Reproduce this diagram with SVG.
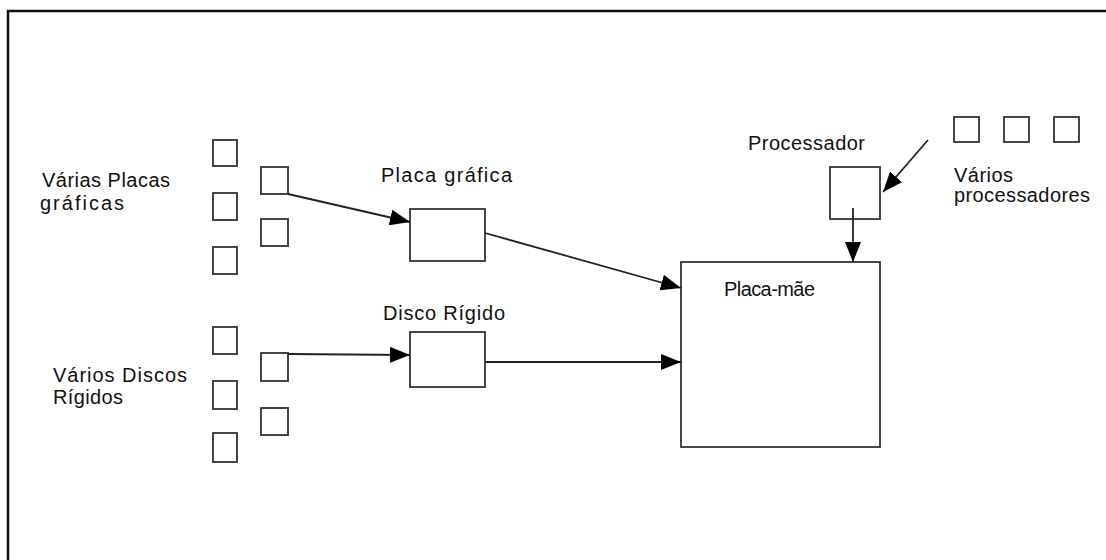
<svg xmlns="http://www.w3.org/2000/svg" width="1106" height="560" viewBox="0 0 1106 560">
<style>
.frame{stroke:#111;stroke-width:2.5;fill:none}
.sq{fill:#fff;stroke:#444;stroke-width:2}
.box{fill:#fff;stroke:#333;stroke-width:1.8}
.lbl{font-family:"Liberation Sans",Arial,sans-serif;font-size:20px;fill:#111}
.conn{stroke:#222;stroke-width:1.8;fill:none;marker-end:url(#ah)}
</style>
<defs>
<marker id="ah" viewBox="0 0 20 16" refX="20" refY="8" markerWidth="20" markerHeight="16" markerUnits="userSpaceOnUse" orient="auto">
<path d="M0,0 L20,8 L0,16 Z" fill="#000"/>
</marker>
</defs>
<rect width="1106" height="560" fill="#fff"/>
<path class="frame" d="M8,560 L8,11 L1106,11"/>

<g id="gpu-group">
<rect class="sq" x="213" y="140" width="24" height="26"/>
<rect class="sq" x="213" y="193" width="24" height="27"/>
<rect class="sq" x="213" y="247" width="24" height="27"/>
<rect class="sq" x="261" y="167" width="27" height="27"/>
<rect class="sq" x="261" y="219" width="27" height="27"/>
<text class="lbl" x="42" y="187" textLength="128" lengthAdjust="spacing">Várias Placas</text>
<text class="lbl" x="40" y="210" textLength="84" lengthAdjust="spacing">gráficas</text>
</g>

<g id="hdd-group">
<rect class="sq" x="213" y="327" width="24" height="27"/>
<rect class="sq" x="213" y="381" width="24" height="28"/>
<rect class="sq" x="213" y="433" width="24" height="29"/>
<rect class="sq" x="261" y="353" width="27" height="28"/>
<rect class="sq" x="261" y="408" width="27" height="27"/>
<text class="lbl" x="53" y="382" textLength="134" lengthAdjust="spacing">Vários Discos</text>
<text class="lbl" x="53" y="404" textLength="70" lengthAdjust="spacing">Rígidos</text>
</g>

<g id="placa-grafica">
<rect class="box" x="410" y="209" width="75" height="52"/>
<text class="lbl" x="381" y="182" textLength="131" lengthAdjust="spacing">Placa gráfica</text>
</g>

<g id="disco-rigido">
<rect class="box" x="410" y="332" width="75" height="55"/>
<text class="lbl" x="383" y="320" textLength="122" lengthAdjust="spacing">Disco Rígido</text>
</g>

<g id="placa-mae">
<rect class="box" x="681" y="262" width="199" height="185"/>
<text class="lbl" x="724" y="296" textLength="91" lengthAdjust="spacing">Placa-mãe</text>
</g>

<g id="processador">
<rect class="box" x="830" y="167" width="50" height="52"/>
<text class="lbl" x="748" y="150" textLength="117" lengthAdjust="spacing">Processador</text>
</g>

<g id="varios-processadores">
<rect class="box" x="954" y="117" width="25" height="25"/>
<rect class="box" x="1004" y="117" width="25" height="25"/>
<rect class="box" x="1054" y="117" width="25" height="25"/>
<text class="lbl" x="954" y="182" textLength="59" lengthAdjust="spacing">Vários</text>
<text class="lbl" x="954" y="202" textLength="136" lengthAdjust="spacing">processadores</text>
</g>

<g id="connectors">
<path class="conn" d="M288,194 L410,222"/>
<path class="conn" d="M485,233 L681,288"/>
<path class="conn" d="M288,354 L410,355"/>
<path class="conn" d="M485,362 L681,362"/>
<path class="conn" d="M853,208 L853,262"/>
<path class="conn" d="M928,140 L883,192"/>
</g>
</svg>
